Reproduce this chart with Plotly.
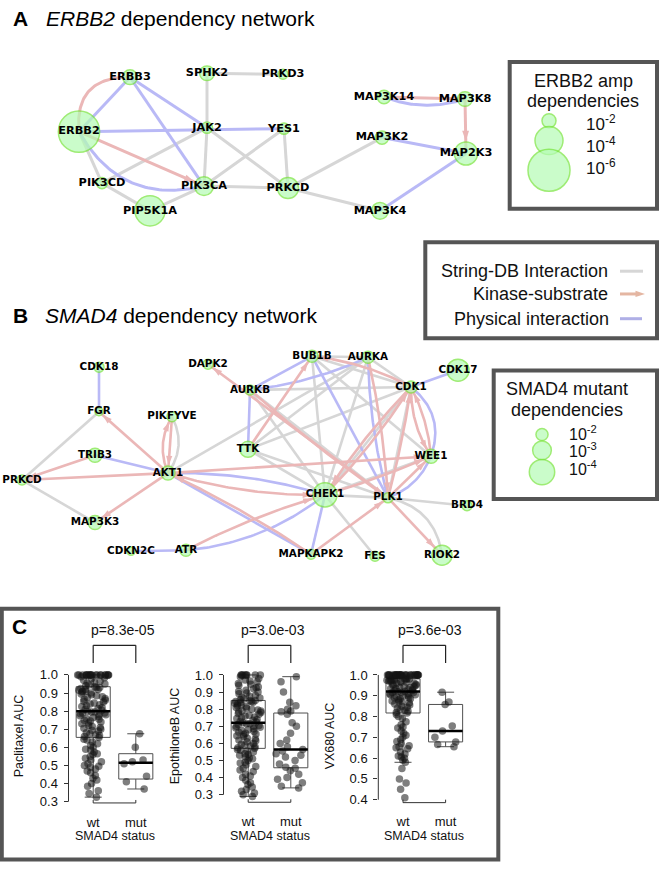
import numpy as np
import plotly.graph_objects as go

W, H = 661, 870
ARIAL = "Liberation Sans, Arial, sans-serif"
NODEFONT = "DejaVu Sans, Verdana, sans-serif"

# ---------------- Panel A : ERBB2 dependency network ----------------
a_names = ['ERBB2', 'ERBB3', 'SPHK2', 'PRKD3', 'JAK2', 'YES1', 'PIK3CD', 'PIK3CA',
           'PRKCD', 'PIP5K1A', 'MAP3K14', 'MAP3K8', 'MAP3K2', 'MAP2K3', 'MAP3K4']
# -log10(p) of each dependency (node size)
a_neglogp = [5.9, 2.1, 2.1, 1.4, 1.6, 1.6, 1.6, 2.7, 3.0, 4.3, 1.9, 2.1, 1.9, 3.3, 2.4]
# network layout (page pixels)
a_layout_x = [79, 130, 207, 283, 207, 284, 102, 204, 288, 150, 384, 465, 382, 466, 380]
a_layout_y = [130, 75, 71, 72, 126, 127, 182, 185, 187, 210, 95, 97, 136, 152, 210]
# (source, target, kind, bend, arrow) kind: s=String-DB, k=kinase-substrate, p=physical
a_edges = [
    ('ERBB2', 'PIK3CD', 's', 0, False), ('PIK3CD', 'PIP5K1A', 's', 0, False),
    ('PIK3CD', 'JAK2', 's', 0, False), ('SPHK2', 'JAK2', 's', 0, False),
    ('SPHK2', 'PRKD3', 's', 0, False), ('JAK2', 'PIK3CA', 's', 0, False),
    ('JAK2', 'PRKCD', 's', 0, False), ('YES1', 'PIK3CA', 's', 0, False),
    ('YES1', 'PRKCD', 's', 0, False), ('PIK3CA', 'PRKCD', 's', 0, False),
    ('PIK3CA', 'PIP5K1A', 's', 0, False), ('PRKCD', 'MAP3K2', 's', 0, False),
    ('PRKCD', 'MAP3K4', 's', 0, False),
    ('ERBB2', 'ERBB3', 'p', 0, False), ('ERBB3', 'JAK2', 'p', 0, False),
    ('ERBB3', 'PIK3CA', 'p', 0, False), ('ERBB2', 'YES1', 'p', 0, False),
    ('ERBB2', 'PIK3CA', 'p', 0.38, False), ('MAP3K14', 'MAP3K8', 'p', 0.18, False),
    ('MAP3K2', 'MAP2K3', 'p', 0, False), ('MAP3K4', 'MAP2K3', 'p', 0, False),
    ('ERBB2', 'ERBB3', 'k', -0.55, False), ('ERBB2', 'PIK3CA', 'k', 0, True),
    ('MAP3K14', 'MAP3K8', 'k', 0, False), ('MAP3K8', 'MAP2K3', 'k', 0, True),
]

# ---------------- Panel B : SMAD4 dependency network ----------------
b_names = ['CDK18', 'DAPK2', 'FGR', 'PIKFYVE', 'TRIB3', 'AKT1', 'PRKCD', 'MAP3K3',
           'CDKN2C', 'ATR', 'AURKB', 'TTK', 'BUB1B', 'AURKA', 'CDK17', 'CDK1', 'WEE1',
           'CHEK1', 'PLK1', 'BRD4', 'MAPKAPK2', 'FES', 'RIOK2']
b_neglogp = [1.7, 1.7, 1.4, 1.7, 2.3, 2.3, 1.7, 2.3, 1.4, 2.0, 1.7, 2.6, 2.0, 2.0,
             3.5, 2.0, 2.3, 3.8, 1.7, 1.7, 1.7, 1.7, 3.2]
b_layout_x = [99, 208, 99, 172, 95, 168, 22, 95, 131, 186, 250, 248, 312, 368, 458,
              411, 431, 325, 388, 467, 311, 375, 442]
b_layout_y = [368, 365, 413, 418, 457, 475, 482, 525, 554, 553, 391, 451, 357, 358,
              371, 388, 458, 497, 500, 508, 557, 559, 558]
b_edges = [
    ('FGR', 'PRKCD', 's', 0, False), ('PRKCD', 'MAP3K3', 's', 0, False),
    ('AKT1', 'PIKFYVE', 's', 0.3, False), ('AKT1', 'AURKA', 's', 0, False),
    ('AURKB', 'CDK1', 's', 0, False), ('AURKB', 'CHEK1', 's', 0, False),
    ('AURKB', 'PLK1', 's', 0, False), ('TTK', 'PLK1', 's', 0, False),
    ('TTK', 'CDK1', 's', 0, False), ('TTK', 'AURKA', 's', 0, False),
    ('TTK', 'CHEK1', 's', 0, False), ('BUB1B', 'AURKA', 's', 0, False),
    ('BUB1B', 'CDK1', 's', 0, False), ('BUB1B', 'CHEK1', 's', 0, False),
    ('BUB1B', 'WEE1', 's', 0, False), ('AURKA', 'CHEK1', 's', 0, False),
    ('AURKA', 'CDK1', 's', 0, False), ('CHEK1', 'WEE1', 's', 0, False),
    ('CHEK1', 'PLK1', 's', 0, False), ('CHEK1', 'FES', 's', 0, False),
    ('CHEK1', 'CDK1', 's', 0, False), ('PLK1', 'CDK1', 's', 0, False),
    ('PLK1', 'BRD4', 's', 0, False), ('PLK1', 'RIOK2', 's', -0.35, False),
    ('CDK18', 'FGR', 'p', 0, False), ('TRIB3', 'AKT1', 'p', 0, False),
    ('CDKN2C', 'ATR', 'p', 0, False), ('ATR', 'CHEK1', 'p', 0.15, False),
    ('AKT1', 'CHEK1', 'p', -0.08, False), ('MAPKAPK2', 'AKT1', 'p', 0, False),
    ('MAPKAPK2', 'CHEK1', 'p', 0, False), ('AURKB', 'TTK', 'p', 0, False),
    ('AURKB', 'BUB1B', 'p', 0, False), ('AURKB', 'AURKA', 'p', 0.08, False),
    ('BUB1B', 'PLK1', 'p', 0, False), ('AURKA', 'PLK1', 'p', 0.06, False),
    ('CDK1', 'CDK17', 'p', 0, False), ('CDK1', 'WEE1', 'p', -0.35, False),
    ('PLK1', 'WEE1', 'p', 0.22, False),
    ('AKT1', 'FGR', 'k', 0, True), ('AKT1', 'PIKFYVE', 'k', -0.25, True),
    ('PIKFYVE', 'AKT1', 'k', 0, True), ('TRIB3', 'PRKCD', 'k', 0, True),
    ('AKT1', 'PRKCD', 'k', 0, True), ('AKT1', 'MAP3K3', 'k', 0, True),
    ('ATR', 'CHEK1', 'k', -0.05, True), ('AKT1', 'CHEK1', 'k', 0.08, True),
    ('AKT1', 'WEE1', 'k', 0, True), ('MAPKAPK2', 'AKT1', 'k', 0.04, True),
    ('MAPKAPK2', 'PLK1', 'k', 0, True), ('PLK1', 'DAPK2', 'k', 0, True),
    ('AURKB', 'PLK1', 'k', 0.03, True), ('TTK', 'BUB1B', 'k', 0, True),
    ('CDK1', 'BUB1B', 'k', 0.1, True), ('AURKA', 'PLK1', 'k', -0.04, True),
    ('CDK1', 'WEE1', 'k', 0.15, True), ('WEE1', 'CDK1', 'k', 0.1, True),
    ('CHEK1', 'CDK1', 'k', 0.05, True), ('CDK1', 'CHEK1', 'k', 0.05, True),
    ('PLK1', 'CDK1', 'k', 0.03, True), ('CHEK1', 'WEE1', 'k', 0.03, True),
    ('PLK1', 'WEE1', 'k', 0, True), ('PLK1', 'RIOK2', 'k', 0, True),
]

# ---------------- Panel C : drug AUC by SMAD4 status ----------------
groups = ['wt', 'mut']
drugs = ['Paclitaxel', 'EpothiloneB', 'VX680']
p_values = ['p=8.3e-05', 'p=3.0e-03', 'p=3.6e-03']

paclitaxel_wt = [
    0.325, 0.345, 0.36, 0.385, 0.40, 0.42, 0.43, 0.445, 0.46, 0.47, 0.48, 0.49, 0.495, 0.50, 0.51,
    0.52, 0.53, 0.54, 0.55, 0.56, 0.565, 0.575, 0.585, 0.59, 0.60, 0.61, 0.62, 0.63, 0.64, 0.645,
    0.655,
    0.66, 0.665, 0.67, 0.675, 0.68, 0.69, 0.695, 0.70, 0.705, 0.71, 0.715, 0.72, 0.73, 0.735, 0.74,
    0.745, 0.75, 0.755, 0.76, 0.765, 0.77, 0.775, 0.78, 0.78, 0.785, 0.79, 0.79, 0.795, 0.795,
    0.80,
    0.805, 0.81, 0.815, 0.82, 0.825, 0.83, 0.835, 0.84, 0.845, 0.85, 0.855, 0.86, 0.865, 0.87, 0.875,
    0.88, 0.885, 0.89, 0.895, 0.90, 0.905, 0.91, 0.91, 0.915, 0.92, 0.92, 0.925, 0.93, 0.93,
    0.935,
    0.94, 0.945, 0.95, 0.955, 0.96, 0.965, 0.97, 0.98, 0.985, 0.99,
    1.0, 1.0, 1.0, 1.0, 1.0, 1.0, 1.0, 1.0, 1.0, 1.0, 1.0, 1.0, 1.0, 1.0, 1.0, 1.0, 1.0, 1.0, 1.0, 1.0,
]
paclitaxel_mut = [0.675, 0.60, 0.53, 0.52, 0.51, 0.44, 0.41, 0.37]

epothilone_wt = [
    0.29, 0.30, 0.31, 0.32, 0.33, 0.345, 0.36, 0.37, 0.385, 0.40, 0.41, 0.42, 0.435, 0.445, 0.455,
    0.465, 0.475, 0.485, 0.49, 0.50, 0.51, 0.515, 0.52, 0.53, 0.535, 0.54, 0.55, 0.555, 0.56, 0.565,
    0.571,
    0.575, 0.58, 0.585, 0.59, 0.595, 0.60, 0.61, 0.615, 0.62, 0.625, 0.63, 0.64, 0.645, 0.65, 0.655,
    0.66, 0.665, 0.67, 0.675, 0.68, 0.685, 0.69, 0.695, 0.70, 0.70, 0.705, 0.71, 0.715, 0.715,
    0.72,
    0.725, 0.73, 0.735, 0.74, 0.745, 0.75, 0.755, 0.76, 0.765, 0.77, 0.775, 0.78, 0.785, 0.79, 0.79,
    0.795, 0.80, 0.805, 0.81, 0.815, 0.82, 0.825, 0.83, 0.835, 0.84, 0.84, 0.845, 0.845, 0.85,
    0.851,
    0.855, 0.86, 0.865, 0.87, 0.875, 0.88, 0.89, 0.895, 0.90, 0.905, 0.91, 0.92, 0.925, 0.93, 0.94,
    0.945, 0.95, 0.96, 0.965, 0.97, 0.98, 0.99, 1.0, 1.0, 1.0, 1.0, 1.0, 1.0, 1.0, 1.0,
]
epothilone_mut = [0.34, 0.35, 0.37, 0.39, 0.40, 0.42, 0.44, 0.455, 0.46, 0.48, 0.50, 0.52, 0.53,
                  0.54, 0.555, 0.565, 0.58, 0.60, 0.62, 0.66, 0.70, 0.72, 0.77, 0.785, 0.79, 0.80,
                  0.82, 0.84, 0.90, 0.96, 0.99]

vx680_wt = [
    0.41, 0.45, 0.48, 0.50, 0.55, 0.58, 0.59, 0.60, 0.605, 0.61, 0.62, 0.63, 0.645, 0.65, 0.655,
    0.66, 0.67, 0.68, 0.69, 0.70, 0.71, 0.72, 0.73, 0.745, 0.75, 0.76, 0.775, 0.79, 0.80, 0.81,
    0.817,
    0.82, 0.825, 0.83, 0.835, 0.84, 0.845, 0.85, 0.855, 0.86, 0.865, 0.87, 0.87, 0.875, 0.88, 0.885,
    0.885, 0.89, 0.89, 0.895, 0.90, 0.90, 0.905, 0.905, 0.91, 0.91, 0.915, 0.915, 0.915, 0.92,
    0.92,
    0.925, 0.925, 0.93, 0.93, 0.935, 0.935, 0.94, 0.94, 0.945, 0.945, 0.95, 0.95, 0.955, 0.955, 0.96,
    0.96, 0.965, 0.965, 0.97, 0.97, 0.97, 0.975, 0.975, 0.975, 0.98, 0.98, 0.98, 0.98, 0.98,
    0.981,
    1.0, 1.0, 1.0, 1.0, 1.0, 1.0, 1.0, 1.0, 1.0, 1.0, 1.0, 1.0, 1.0, 1.0, 1.0,
    1.0, 1.0, 1.0, 1.0, 1.0, 1.0, 1.0, 1.0, 1.0, 1.0, 1.0, 1.0, 1.0, 1.0, 1.0,
]
vx680_mut = [0.655, 0.665, 0.678, 0.70, 0.73, 0.755, 0.858, 0.87, 0.917]

drug_values = {
    'Paclitaxel': (paclitaxel_wt, paclitaxel_mut),
    'EpothiloneB': (epothilone_wt, epothilone_mut),
    'VX680': (vx680_wt, vx680_mut),
}
y_ticks = {
    'Paclitaxel': [0.3, 0.4, 0.5, 0.6, 0.7, 0.8, 0.9, 1.0],
    'EpothiloneB': [0.3, 0.4, 0.5, 0.6, 0.7, 0.8, 0.9, 1.0],
    'VX680': [0.4, 0.5, 0.6, 0.7, 0.8, 0.9, 1.0],
}

# ---------------- styling / geometry ----------------
EDGE_COL = {'s': 'rgb(214,214,214)', 'k': 'rgb(235,183,183)', 'p': 'rgb(185,185,246)'}
NODE_FILL = 'rgb(180,252,180)'
NODE_LINE = 'rgb(118,228,58)'


def size_a(k):
    return 7.0 * np.asarray(k, dtype=float)


def size_b(k):
    return 6.67 * np.asarray(k, dtype=float) - 1.3


def curve(p0, p1, bend, n=60):
    x0, y0 = p0
    x1, y1 = p1
    dx, dy = x1 - x0, y1 - y0
    cx = (x0 + x1) / 2 - bend * dy
    cy = (y0 + y1) / 2 + bend * dx
    t = np.linspace(0, 1, n)
    xs = (1 - t) ** 2 * x0 + 2 * (1 - t) * t * cx + t ** 2 * x1
    ys = (1 - t) ** 2 * y0 + 2 * (1 - t) * t * cy + t ** 2 * y1
    return xs, ys


fig = go.Figure()
annotations = []
shapes = []


def add_network(names, lx, ly, sizes, edges, lw, fsize, head):
    pos = {n: (x, y) for n, x, y in zip(names, lx, ly)}
    rad = {n: s / 2 for n, s in zip(names, sizes)}
    hx, hy, hang = [], [], []
    for kind in ['s', 'p', 'k']:
        X, Y = [], []
        for (a, b, k, bend, arrow) in edges:
            if k != kind:
                continue
            xs, ys = curve(pos[a], pos[b], bend)
            X += list(xs) + [None]
            Y += list(ys) + [None]
            if arrow:
                tx, ty = pos[b]
                r = rad[b] + 0.8
                d = np.hypot(xs - tx, ys - ty)
                j = np.where(d > r)[0][-1]
                # tip on the node border, direction from a point a little further back
                jb = np.where(d > r + 8)[0][-1]
                f = (d[j] - r) / max(d[j] - d[j + 1], 1e-9)
                px = xs[j] + f * (xs[j + 1] - xs[j])
                py = ys[j] + f * (ys[j + 1] - ys[j])
                ang = np.degrees(np.arctan2(px - xs[jb], -(py - ys[jb])))
                hx.append(float(px))
                hy.append(float(py))
                hang.append(float(ang))
        fig.add_trace(go.Scatter(x=X, y=Y, mode='lines', xaxis='x', yaxis='y',
                                 line=dict(color=EDGE_COL[kind], width=lw), hoverinfo='skip'))
    fig.add_trace(go.Scatter(x=hx, y=hy, mode='markers', xaxis='x', yaxis='y',
                             marker=dict(symbol='arrow', size=head, angle=hang,
                                         color=EDGE_COL['k'], line=dict(width=0)),
                             hoverinfo='skip'))
    fig.add_trace(go.Scatter(
        x=lx, y=ly, mode='markers+text', text=names, textposition='middle center',
        xaxis='x', yaxis='y',
        marker=dict(size=list(sizes), color=NODE_FILL, line=dict(color=NODE_LINE, width=1.5)),
        textfont=dict(family=NODEFONT, size=fsize, color='black', weight='bold'),
        hoverinfo='skip'))


add_network(a_names, a_layout_x, a_layout_y, size_a(a_neglogp), a_edges, 3.0, 11.3, 11)
add_network(b_names, b_layout_x, b_layout_y, size_b(b_neglogp), b_edges, 2.6, 10.4, 10)

# ---------------- size legends ----------------
leg_a_k = [2, 4, 6]
leg_a_txt = ['10<sup>-2</sup>', '10<sup>-4</sup>', '10<sup>-6</sup>']
leg_a_cy = [119, 139, 169]
leg_a_ty = [121, 143, 166]
leg_b_k = [2, 3, 4]
leg_b_txt = ['10<sup>-2</sup>', '10<sup>-3</sup>', '10<sup>-4</sup>']
leg_b_cy = [436, 452, 474]
leg_b_ty = [434, 452, 470]

fig.add_trace(go.Scatter(x=[549] * 3, y=leg_a_cy, mode='markers', xaxis='x', yaxis='y',
                         marker=dict(size=list(size_a(leg_a_k)), color=NODE_FILL,
                                     line=dict(color=NODE_LINE, width=1.5)), hoverinfo='skip'))
fig.add_trace(go.Scatter(x=[542] * 3, y=leg_b_cy, mode='markers', xaxis='x', yaxis='y',
                         marker=dict(size=list(size_b(leg_b_k)), color=NODE_FILL,
                                     line=dict(color=NODE_LINE, width=1.5)), hoverinfo='skip'))
# kinase-substrate legend arrow
fig.add_trace(go.Scatter(x=[620, 637], y=[294, 294], mode='lines', xaxis='x', yaxis='y',
                         line=dict(color='rgb(228,182,162)', width=3), hoverinfo='skip'))
fig.add_trace(go.Scatter(x=[645], y=[294], mode='markers', xaxis='x', yaxis='y',
                         marker=dict(symbol='arrow', size=10, angle=[90],
                                     color='rgb(228,182,162)', line=dict(width=0)),
                         hoverinfo='skip'))

for t, y in zip(leg_a_txt, leg_a_ty):
    annotations.append(dict(x=584, y=y, xref='x', yref='y', text=t, showarrow=False,
                            xanchor='left', yanchor='middle', font=dict(family=ARIAL, size=17, color='#111')))
for t, y in zip(leg_b_txt, leg_b_ty):
    annotations.append(dict(x=567, y=y, xref='x', yref='y', text=t, showarrow=False,
                            xanchor='left', yanchor='middle', font=dict(family=ARIAL, size=16, color='#111')))


def txt(x, y, s, size, anchor='center', color='#111', angle=0):
    annotations.append(dict(x=x, y=y, xref='x', yref='y', text=s, showarrow=False,
                            xanchor=anchor, yanchor='middle', textangle=angle,
                            font=dict(family=ARIAL, size=size, color=color)))


# titles
txt(11, 16, '<b>A</b>', 21, 'left', 'black')
txt(44, 16, '<i>ERBB2</i> dependency network', 21, 'left', 'black')
txt(11, 316, '<b>B</b>', 21, 'left', 'black')
txt(43, 316, '<i>SMAD4</i> dependency network', 21, 'left', 'black')
txt(10, 630, '<b>C</b>', 21, 'left', 'black')

# legend texts
txt(583, 79, 'ERBB2 amp', 18)
txt(583, 99, 'dependencies', 18)
txt(567, 390, 'SMAD4 mutant', 18)
txt(567, 411, 'dependencies', 18)
txt(610, 271, 'String-DB Interaction', 18, 'right')
txt(610, 294, 'Kinase-substrate', 18, 'right')
txt(611, 319, 'Physical interaction', 18, 'right')
shapes.append(dict(type='line', xref='x', yref='y', x0=620, x1=643, y0=271, y1=271,
                   line=dict(color=EDGE_COL['s'], width=3)))
shapes.append(dict(type='line', xref='x', yref='y', x0=620, x1=642, y0=319, y1=319,
                   line=dict(color='rgb(175,175,230)', width=3)))

# legend / panel frames
FRAME = 'rgb(85,85,85)'
for (x0, y0, x1, y1) in [(509.7, 59.5, 657, 208), (425.3, 241.7, 657, 338.7),
                         (493.7, 371.3, 657, 501.3), (1.8, 612, 498.3, 865.5)]:
    shapes.append(dict(type='rect', xref='x', yref='y', x0=x0, x1=x1, y0=y0, y1=y1,
                       line=dict(color=FRAME, width=4)))

# ---------------- box plots ----------------
sub_px = {  # plot regions in page pixels: (left, right, top, bottom), y range
    'Paclitaxel': ((68.5, 160.5, 674.0, 808.3), (0.293, 1.027), 19, 'Paclitaxel AUC', 122.5),
    'EpothiloneB': ((223.5, 315.5, 673.8, 807.6), (0.256, 1.03), 175, 'EpothiloneB AUC', 272.5),
    'VX680': ((378.3, 470.3, 674.0, 808.0), (0.386, 1.0236), 330, 'VX680 AUC', 430),
}

layout_axes = {}
for i, drug in enumerate(drugs):
    n = i + 2
    (l, r, t, b), yr, ytx, ytitle, ptx = sub_px[drug]
    xa, ya = f'x{n}', f'y{n}'
    layout_axes[f'xaxis{n}'] = dict(
        domain=[l / W, r / W], anchor=ya, type='category', categoryorder='array',
        categoryarray=groups, range=[-0.58, 1.58], showgrid=False, zeroline=False,
        showline=False, ticks='outside', ticklen=7, tickcolor='rgba(0,0,0,0)',
        tickfont=dict(family=ARIAL, size=13, color='#111'), fixedrange=True)
    layout_axes[f'yaxis{n}'] = dict(
        domain=[1 - b / H, 1 - t / H], anchor=xa, range=list(yr), showgrid=False,
        zeroline=False, showline=False, ticks='outside', ticklen=4, tickcolor='#333',
        tickvals=y_ticks[drug], ticktext=[f'{v:.1f}' for v in y_ticks[drug]],
        tickfont=dict(family=ARIAL, size=13, color='#111'), ticklabelstandoff=3,
        fixedrange=True)
    for gi, (g, vals) in enumerate(zip(groups, drug_values[drug])):
        fig.add_trace(go.Box(
            y=vals, x=[g] * len(vals), name=g, xaxis=xa, yaxis=ya,
            boxpoints='all', jitter=0.95, pointpos=0, width=0.8, whiskerwidth=0.5,
            quartilemethod='inclusive' if len(vals) % 2 else 'exclusive',
            fillcolor='rgba(0,0,0,0)', line=dict(color='rgb(80,80,80)', width=1),
            marker=dict(color='rgba(20,20,20,0.55)', size=7.5, line=dict(width=0)),
            hoverinfo='skip'))
        med = float(np.median(vals))
        shapes.append(dict(type='line', xref=xa, yref=ya, x0=gi - 0.4, x1=gi + 0.4,
                           y0=med, y1=med, line=dict(color='black', width=2.5)))
    # y axis line spanning the ticks
    shapes.append(dict(type='line', xref=f'{xa} domain', yref=ya, x0=0, x1=0,
                       y0=y_ticks[drug][0], y1=y_ticks[drug][-1],
                       line=dict(color='#333', width=1)))
    # x axis line between the two groups
    shapes.append(dict(type='line', xref=xa, yref='y', x0=0, x1=1, y0=b, y1=b,
                       line=dict(color='#333', width=1)))
    for gx in (0, 1):
        shapes.append(dict(type='line', xref=xa, yref='y', x0=gx, x1=gx, y0=b, y1=b - 3,
                           line=dict(color='#333', width=1)))
    # significance bracket
    for (x0, x1, y0, y1) in [(0, 0, 667, 649), (0, 1, 649, 649), (1, 1, 649, 667)]:
        shapes.append(dict(type='line', xref=xa, yref='y', x0=x0, x1=x1, y0=y0, y1=y1,
                           line=dict(color='#222', width=1.2)))
    txt(ptx, 634, p_values[i], 14)
    txt(ytx, 741, ytitle, 12.5, angle=-90)
    txt((l + r) / 2, 842, 'SMAD4 status', 12.5)

fig.update_layout(
    width=W, height=H, margin=dict(l=0, r=0, t=0, b=0),
    paper_bgcolor='white', plot_bgcolor='rgba(0,0,0,0)', showlegend=False,
    xaxis=dict(domain=[0, 1], range=[0, W], visible=False, fixedrange=True),
    yaxis=dict(domain=[0, 1], range=[H, 0], visible=False, fixedrange=True),
    annotations=annotations, shapes=shapes, **layout_axes)

fig.write_html("out.html", config={'displayModeBar': False},
               post_script="document.body.style.margin='0';")
